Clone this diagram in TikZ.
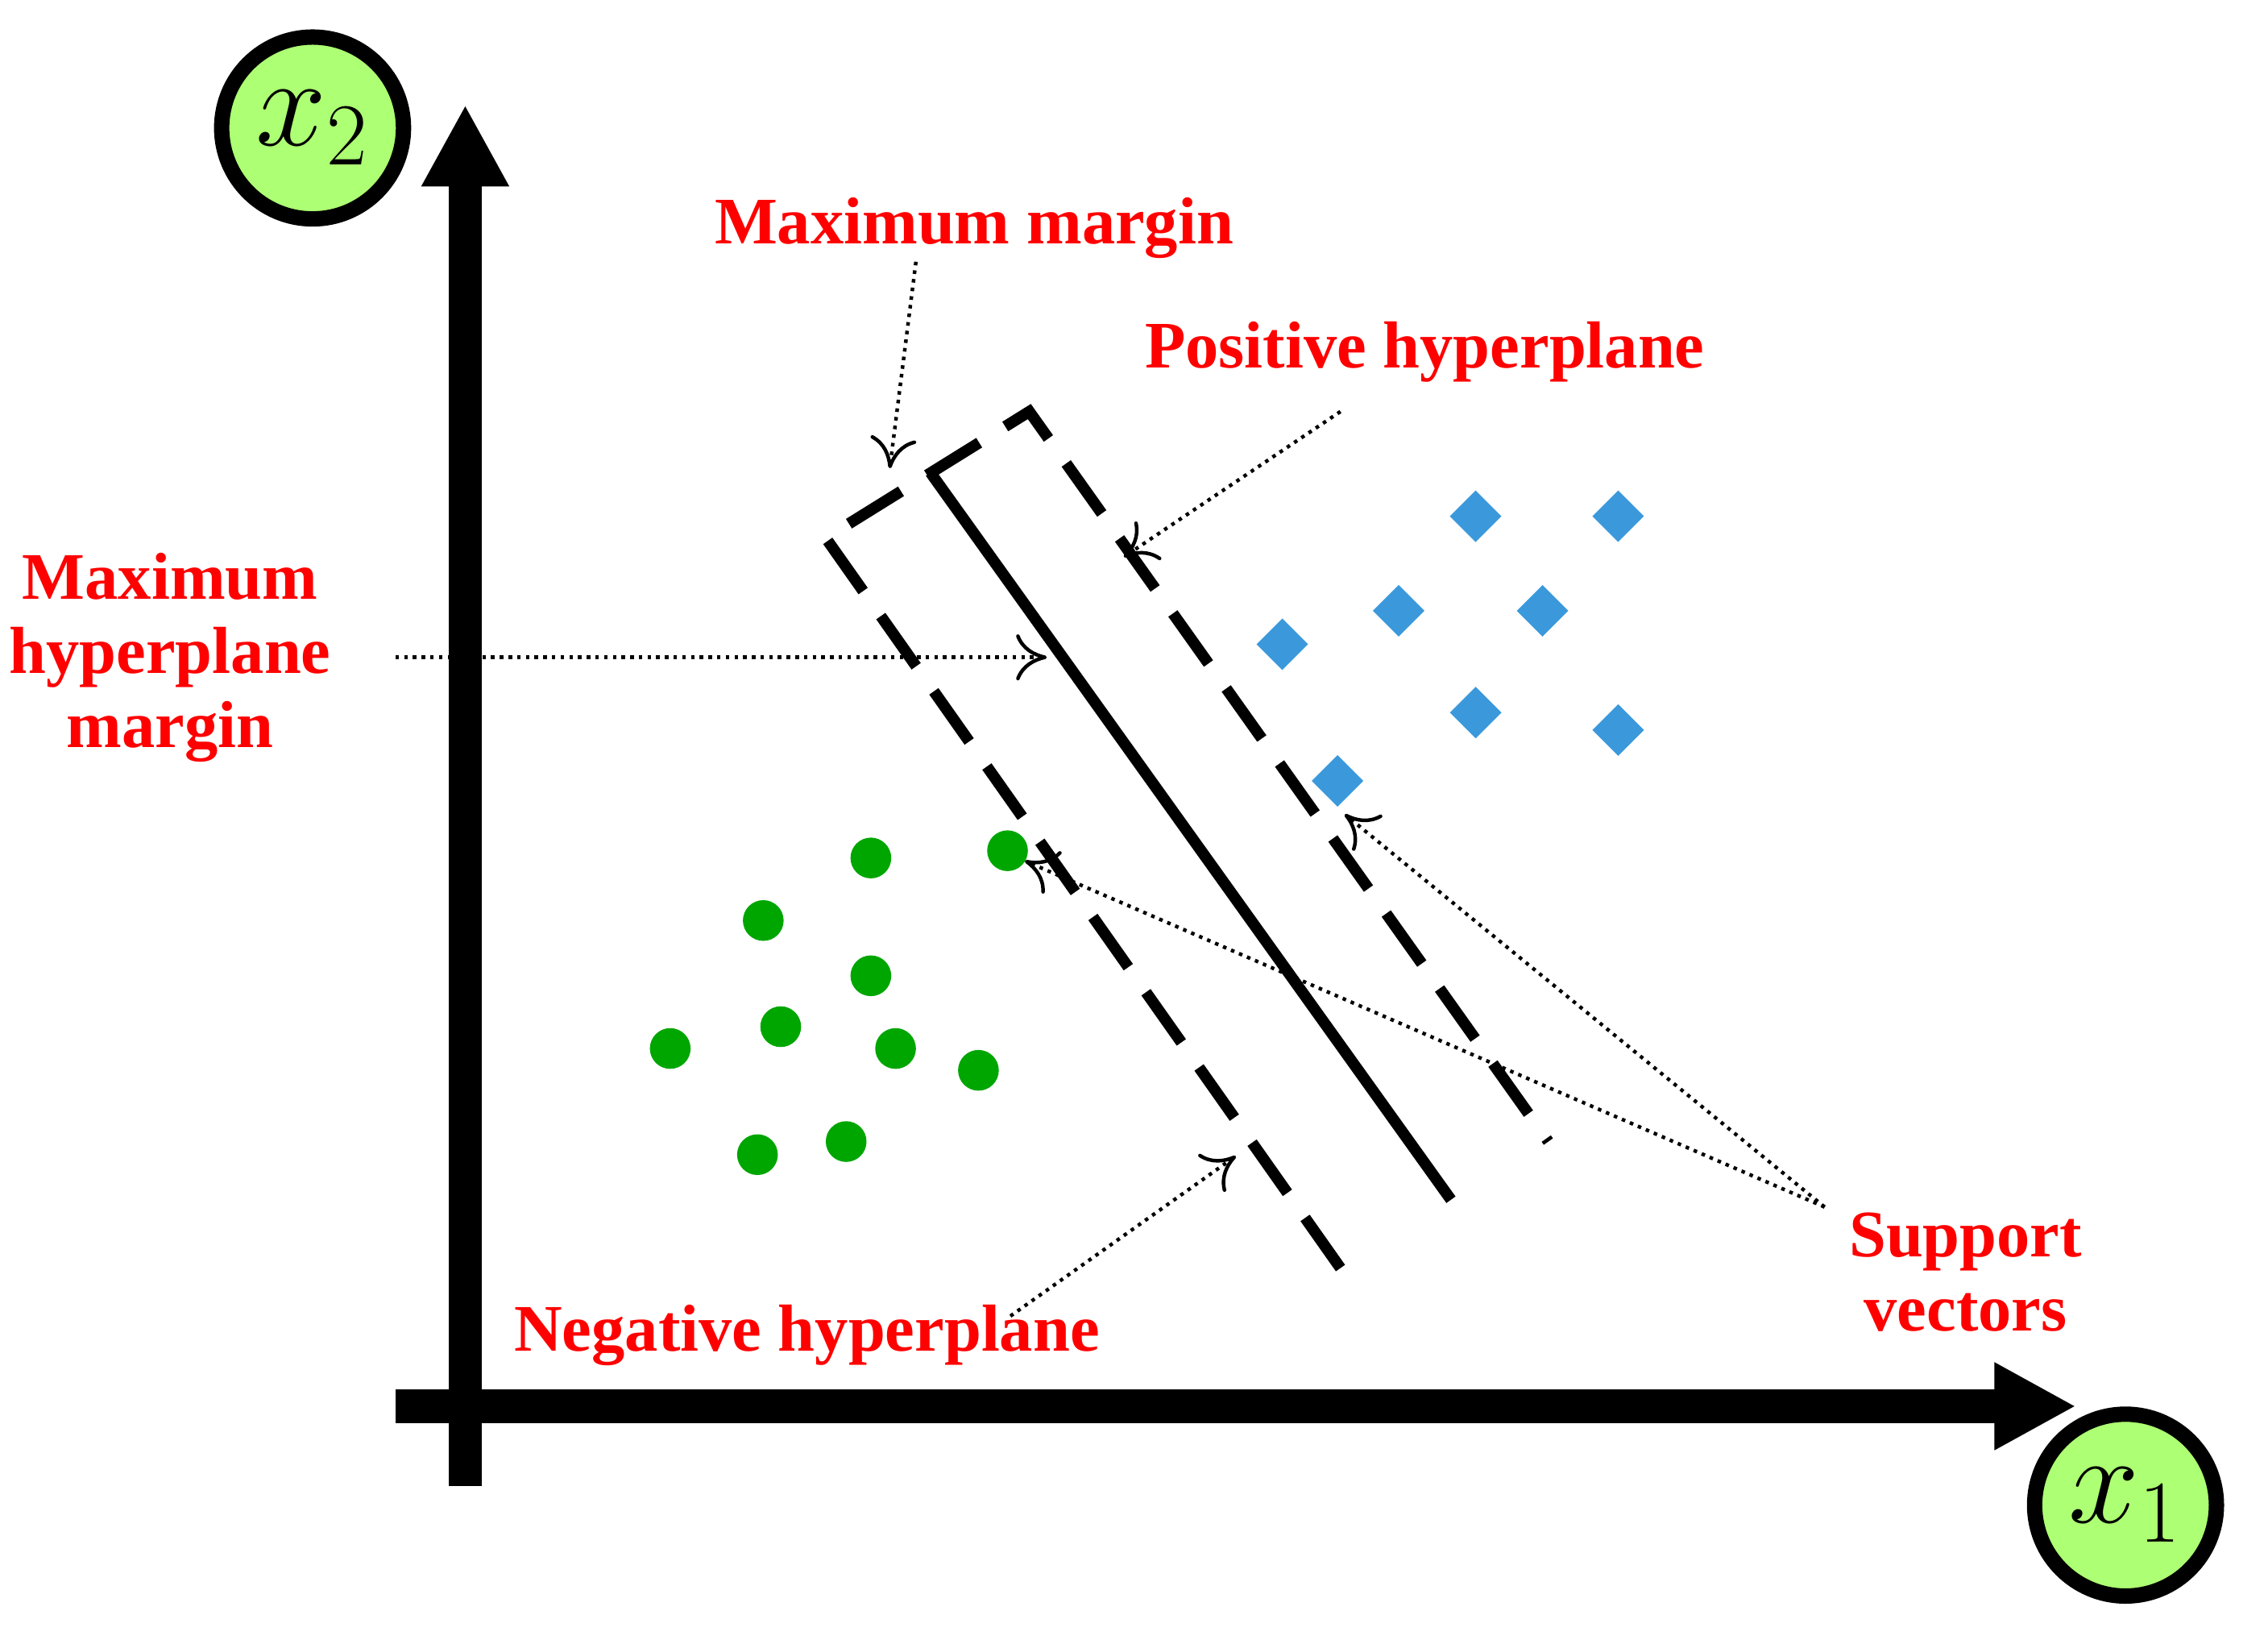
\documentclass[tikz,border=0pt]{standalone}
\usepackage{fontspec}
\setmainfont{Liberation Serif}
\usetikzlibrary{arrows.meta,shapes.geometric}
\begin{document}
\begin{tikzpicture}[x=0.01cm,y=-0.01cm,
  lbl/.style={text=red,font=\bfseries\fontsize{13}{15.5}\selectfont,align=center,inner sep=0pt},
  axis/.style={line width=6.5pt,-{Triangle[length=16pt,width=16pt]}},
  ball/.style={circle,draw=black,line width=3pt,fill=green!45!lime!55!white,minimum size=1.25cm,inner sep=0pt,font=\fontsize{24}{28}\selectfont},
  dsh/.style={line width=2.2pt,dash pattern=on 12pt off 6pt},
  ptr/.style={densely dotted,line width=0.7pt,-{To[length=6pt,width=9pt]}},
  sq/.style={diamond,fill=cyan!70!blue!80!white,minimum size=0.36cm,inner sep=0pt},
  dot/.style={circle,fill=green!65!black,minimum size=0.28cm,inner sep=0pt}]
\useasboundingbox (0,0) rectangle (1560,1130);
% axes
\coordinate (yb) at (320,1022); \coordinate (yt) at (320,72);
\coordinate (xl) at (272,967); \coordinate (xr) at (1428,967);
\draw[axis] (yb) -- (yt);
\draw[axis] (xl) -- (xr);
\node[ball] (x2) at (215,88) {$x_2$};
\node[ball] (x1) at (1462,1035) {$x_1$};
% hyperplanes
\coordinate (a) at (568,370); \coordinate (b) at (708,283);
\coordinate (c) at (922,872); \coordinate (d) at (1065,785);
\coordinate (s1) at (640,325); \coordinate (s2) at (998,825);
\draw[dsh] (c) -- (a) -- (b) -- (d);
\draw[line width=2.2pt] (s1) -- (s2);
% points
\foreach \n/\p in {q1/{(1015,355)},q2/{(1113,355)},q3/{(882,443)},q4/{(962,420)},q5/{(1061,420)},q6/{(1015,490)},q7/{(1113,502)},q8/{(920,537)}}
  \node[sq] (\n) at \p {};
\foreach \n/\p in {g1/{(599,590)},g2/{(693,585)},g3/{(525,633)},g4/{(599,671)},g5/{(461,721)},g6/{(537,706)},g7/{(616,721)},g8/{(673,736)},g9/{(521,794)},g10/{(582,785)}}
  \node[dot] (\n) at \p {};
% labels
\node[lbl] (mm) at (670,157) {Maximum margin};
\node[lbl] (ph) at (980,242) {Positive hyperplane};
\node[lbl] (mh) at (117,452) {Maximum\\[-1pt]hyperplane\\[-1pt]margin};
\node[lbl] (sv) at (1352,875) {Support\\[-1pt]vectors};
\node[lbl] (nh) at (555,918) {Negative hyperplane};
% pointers
\coordinate (mmt) at (612,322); \coordinate (mms) at (630,180);
\coordinate (pht) at (773,383); \coordinate (phs) at (922,283);
\coordinate (mht) at (720,452); \coordinate (mhs) at (272,452);
\coordinate (svs) at (1255,830); \coordinate (svt1) at (925,560); \coordinate (svt2) at (705,592);
\coordinate (nhs) at (695,905); \coordinate (nht) at (850,795);
\draw[ptr] (mms) -- (mmt);
\draw[ptr] (phs) -- (pht);
\draw[ptr] (mhs) -- (mht);
\draw[ptr] (svs) -- (svt1);
\draw[ptr] (svs) -- (svt2);
\draw[ptr] (nhs) -- (nht);
\end{tikzpicture}
\end{document}
